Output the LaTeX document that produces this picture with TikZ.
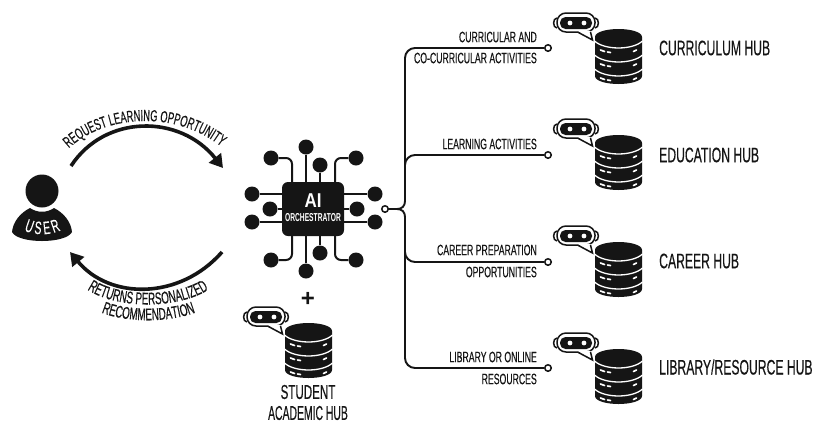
\documentclass[tikz,border=0pt]{standalone}
\usepackage{fontspec}
\setmainfont[FakeStretch=0.58,FakeBold=0.3]{Liberation Sans}
\newfontfamily\narrowcond[FakeStretch=0.52,FakeBold=0.3]{Liberation Sans}
\newfontfamily\boldcond[FakeStretch=0.58]{Liberation Sans Bold}
\newfontfamily\boldwide[FakeStretch=0.85]{Liberation Sans Bold}
\newfontfamily\plainbold{Liberation Sans Bold}
\usetikzlibrary{decorations.text,arrows.meta}
\definecolor{ink}{HTML}{151515}
\tikzset{
 x=1pt,y=-1pt,
 lab/.style={font=\fontsize{15}{16}\selectfont,text=ink,inner sep=0pt,anchor=east},
 hublab/.style={font=\fontsize{21}{22}\selectfont,text=ink,inner sep=0pt,anchor=west},
 stud/.style={font=\fontsize{20}{21}\selectfont,text=ink,inner sep=0pt},
 pin/.style={circle,fill=ink,minimum size=15pt,inner sep=0pt},
 wire/.style={draw=ink,line width=2pt,rounded corners=6pt},
 branch/.style={draw=ink,line width=1.9pt,rounded corners=10pt},
 term/.style={circle,draw=ink,fill=white,line width=1.5pt,minimum size=6.5pt,inner sep=0pt},
 flow/.style={draw=ink,line width=3.6pt,-{Triangle[length=13pt,width=15pt]}},
 hub/.pic={
  \fill[ink] (-23.5,8) -- (-23.5,47) .. controls (-23.5,52) and (-12,55) .. (0,55) .. controls (12,55) and (23.5,52) .. (23.5,47) -- (23.5,8) .. controls (23.5,3) and (12,0) .. (0,0) .. controls (-12,0) and (-23.5,3) .. (-23.5,8) -- cycle;
  \foreach \d in {12,26,40}{
   \draw[white,line width=1.3pt] (-24,\d) .. controls (-14,{\d+9.3}) and (14,{\d+9.3}) .. (24,\d);
   \draw[white,line width=1.7pt,line cap=round] (-18,{\d+9}) -- (-14,{\d+10.5});
   \draw[white,line width=1.7pt,line cap=round] (-11,{\d+11}) -- (-8,{\d+11.5});
   \draw[white,line width=1.7pt,line cap=round] (15,{\d+10.5}) -- (18,{\d+9});
  }
  \draw[ink,line width=1.5pt] (-61.5,-11) .. controls (-66,-11) and (-66,-1) .. (-61.5,-1);
  \draw[ink,line width=1.5pt] (-23.5,-11) .. controls (-19,-11) and (-19,-1) .. (-23.5,-1);
  \draw[ink,line width=1.5pt,fill=white,rounded corners=9pt] (-61.5,-16) -- (-23.5,-16) -- (-23.5,3) -- (-61.5,3) -- cycle;
  \fill[white] (-41,2) -- (-26,11) -- (-28,2) -- cycle;
  \draw[ink,line width=1.5pt,line join=miter] (-41,3) -- (-26,11) -- (-28,3);
  \fill[ink,rounded corners=5.5pt] (-58.5,-12) rectangle (-26.5,0);
  \fill[white] (-48.5,-6) circle (2.4);
  \fill[white] (-34.5,-6) circle (2.4);
 }
}
\begin{document}
\begin{tikzpicture}
\useasboundingbox (0,0) rectangle (813,424);
\fill[white] (0,0) rectangle (813,424);
% user
\node[circle,fill=ink,minimum size=33pt,inner sep=0pt] (head) at (42,191) {};
\fill[ink] (12,232) .. controls (13,222) and (20,213) .. (30,208) .. controls (37,213) and (47,213) .. (54,208) .. controls (64,213) and (71,222) .. (72,232) .. controls (66,244) and (18,244) .. (12,232) -- cycle;
\path[postaction={decorate,decoration={text along path,text align=center,text={|\fontsize{18}{18}\selectfont\color{white}|U\ S\ E\ R}}}] (17,226) .. controls (30,237) and (54,237) .. (68,226);
% flow arrows
\coordinate (u1) at (71,166); \coordinate (c1) at (223,168);
\coordinate (c2) at (222,252); \coordinate (u2) at (70,252);
\draw[flow] (u1) .. controls (105,114) and (180,114) .. (c1);
\draw[flow] (c2) .. controls (180,300) and (110,300) .. (u2);
\path[postaction={decorate,decoration={text along path,text align=center,text={|\fontsize{16}{16}\selectfont\color{ink}|REQUEST LEARNING OPPORTUNITY}}}] (65,152) .. controls (105,111) and (182,111) .. (225,150);
\path[postaction={decorate,decoration={text along path,text align=center,text={|\fontsize{17}{17}\selectfont\color{ink}|RETURNS PERSONALIZED}}}] (85,288) .. controls (115,310) and (180,310) .. (211,288);
\path[postaction={decorate,decoration={text along path,text align=center,text={|\fontsize{17}{17}\selectfont\color{ink}|RECOMMENDATION}}}] (100,312) .. controls (125,323) and (170,323) .. (197,312);
% chip
\node[fill=ink,rounded corners=6pt,minimum width=62pt,minimum height=54pt,inner sep=0pt] (chip) at (313,209) {};
\node[text=white,font=\boldwide\fontsize{20}{20}\selectfont,inner sep=0pt] (ai) at (313,201) {AI};
\node[text=white,font=\boldcond\fontsize{11.5}{12}\selectfont,inner sep=0pt] (orch) at (313,218) {ORCHESTRATOR};
\node[pin] (l1) at (252,194) {}; \node[pin] (l2) at (252,222) {}; \node[pin] (l3) at (270,209) {};
\node[pin] (r1) at (375,194) {}; \node[pin] (r2) at (375,222) {}; \node[pin] (r3) at (357,209) {};
\node[pin] (t1) at (306,147) {}; \node[pin] (t2) at (320,165) {}; \node[pin] (t3) at (271,158) {}; \node[pin] (t4) at (356,158) {};
\node[pin] (b1) at (306,271) {}; \node[pin] (b2) at (320,253) {}; \node[pin] (b3) at (271,260) {}; \node[pin] (b4) at (356,260) {};
\draw[wire] (l1) -- (l1 -| chip.west); \draw[wire] (l2) -- (l2 -| chip.west); \draw[wire] (l3) -- (l3 -| chip.west);
\draw[wire] (r1) -- (r1 -| chip.east); \draw[wire] (r2) -- (r2 -| chip.east); \draw[wire] (r3) -- (r3 -| chip.east);
\draw[wire] (t1) -- (t1 |- chip.north); \draw[wire] (t2) -- (t2 |- chip.north);
\draw[wire] (b1) -- (b1 |- chip.south); \draw[wire] (b2) -- (b2 |- chip.south);
\draw[wire] (t3) -| (292,183); \draw[wire] (t4) -| (335,183);
\draw[wire] (b3) -| (292,235); \draw[wire] (b4) -| (335,235);
% tree
\node[term] (src) at (385,209) {};
\coordinate (j) at (397,209);
\coordinate (up) at (405,201); \coordinate (dn) at (405,217);
\node[term] (e1) at (548,48) {}; \node[term] (e2) at (548,155) {}; \node[term] (e3) at (548,262) {}; \node[term] (e4) at (548,368) {};
\draw[branch] (src) -- (j);
\draw[draw=ink,line width=1.9pt] (j) .. controls (402,209) and (405,206) .. (up);
\draw[draw=ink,line width=1.9pt] (j) .. controls (402,209) and (405,212) .. (dn);
\draw[branch] (up) |- (e1);
\draw[branch] (dn) |- (e4);
\draw[branch] (405,170) |- (e2);
\draw[branch] (405,248) |- (e3);
\node[lab] (a1) at (537,37) {CURRICULAR AND};
\node[lab] (a2) at (537,58) {CO-CURRICULAR ACTIVITIES};
\node[lab] (b0) at (537,144) {LEARNING ACTIVITIES};
\node[lab] (c01) at (537,250) {CAREER PREPARATION};
\node[lab] (c02) at (537,272) {OPPORTUNITIES};
\node[lab] (d1) at (537,357) {LIBRARY OR ONLINE};
\node[lab] (d2) at (537,379) {RESOURCES};
% hubs
\pic at (618.5,29) {hub}; \pic at (618.5,135) {hub}; \pic at (618.5,242) {hub}; \pic at (618.5,349) {hub};
\pic at (308.5,323) {hub};
\node[hublab] (h1) at (659,48) {CURRICULUM HUB};
\node[hublab] (h2) at (659,155) {EDUCATION HUB};
\node[hublab] (h3) at (659,261) {CAREER HUB};
\node[hublab] (h4) at (659,367) {LIBRARY/RESOURCE HUB};
\node[text=ink,font=\plainbold\fontsize{24}{24}\selectfont,inner sep=0pt] (plus) at (308,299) {+};
\node[stud] (s1) at (308,392) {STUDENT};
\node[stud,font=\narrowcond\fontsize{20}{21}\selectfont] (s2) at (308,413) {ACADEMIC HUB};
\end{tikzpicture}
\end{document}
